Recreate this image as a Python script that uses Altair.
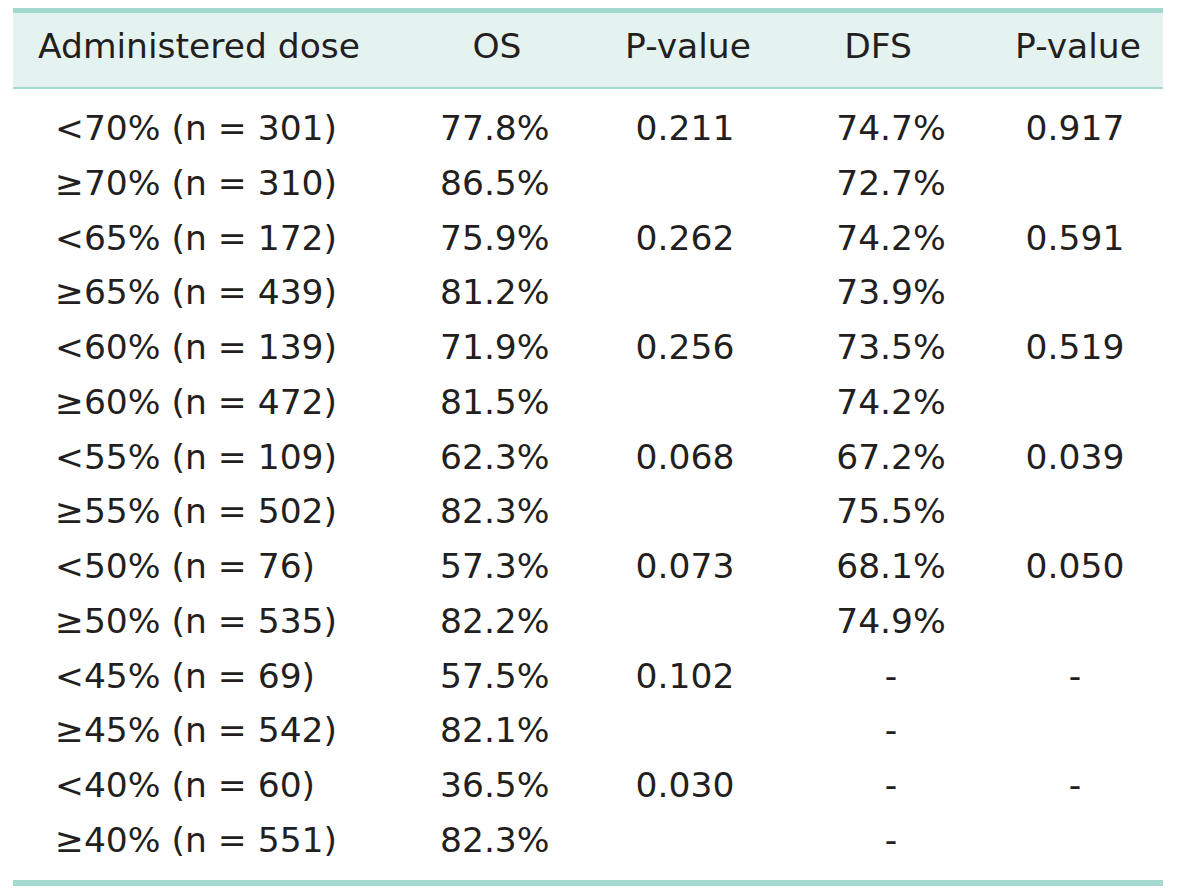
import altair as alt
import pandas as pd

# ---- table contents ----
headers = ["Administered dose", "OS", "P-value", "DFS", "P-value"]
doses = ["<70% (n = 301)", "≥70% (n = 310)", "<65% (n = 172)", "≥65% (n = 439)",
         "<60% (n = 139)", "≥60% (n = 472)", "<55% (n = 109)", "≥55% (n = 502)",
         "<50% (n = 76)", "≥50% (n = 535)", "<45% (n = 69)", "≥45% (n = 542)",
         "<40% (n = 60)", "≥40% (n = 551)"]
os_vals = ["77.8%", "86.5%", "75.9%", "81.2%", "71.9%", "81.5%", "62.3%", "82.3%",
           "57.3%", "82.2%", "57.5%", "82.1%", "36.5%", "82.3%"]
os_p = ["0.211", "", "0.262", "", "0.256", "", "0.068", "", "0.073", "", "0.102", "", "0.030", ""]
dfs_vals = ["74.7%", "72.7%", "74.2%", "73.9%", "73.5%", "74.2%", "67.2%", "75.5%",
            "68.1%", "74.9%", "-", "-", "-", "-"]
dfs_p = ["0.917", "", "0.591", "", "0.519", "", "0.039", "", "0.050", "", "-", "", "-", ""]

# ---- layout (not data) ----
W, H = 1184, 882
FONT = "DejaVu Sans"
FS = 34.5
FW = "normal"
TXT = "#231f20"
TEAL = "#a3d9ce"
BG = "#e5f3f0"
col_x = {"dose": 47, "os": 432, "p1": 677, "dfs": 883, "p2": 1067}
head_x = [30, 489, 680, 870, 1070]
head_align = ["left", "center", "center", "center", "center"]

cols = {"dose": doses, "os": os_vals, "p1": os_p, "dfs": dfs_vals, "p2": dfs_p}
rows = []
for key, vals in cols.items():
    for i, v in enumerate(vals):
        rows.append({"row": i, "col": key, "text": v, "x": col_x[key]})
body = pd.DataFrame(rows)

xs = alt.Scale(domain=[0, W], range=[0, W])
ys = alt.Scale(domain=[0, H], range=[0, H])

bands = pd.DataFrame([
    {"x": 5, "x2": 1155, "y": 5, "y2": 80, "c": BG},
    {"x": 5, "x2": 1155, "y": 0, "y2": 5, "c": TEAL},
    {"x": 5, "x2": 1155, "y": 79, "y2": 81, "c": TEAL},
    {"x": 5, "x2": 1155, "y": 872, "y2": 878, "c": TEAL},
])
rect = alt.Chart(bands).mark_rect().encode(
    x=alt.X("x:Q", scale=xs, axis=None), x2="x2:Q",
    y=alt.Y("y:Q", scale=ys, axis=None), y2="y2:Q",
    color=alt.Color("c:N", scale=None),
)

txt = dict(font=FONT, fontSize=FS, fontWeight=FW, color=TXT, baseline="middle")

head_layers = []
for h, hx, al in zip(headers, head_x, head_align):
    d = pd.DataFrame({"text": [h], "x": [hx], "y": [40]})
    head_layers.append(
        alt.Chart(d).mark_text(align=al, **txt)
        .encode(x=alt.X("x:Q", scale=xs, axis=None), y=alt.Y("y:Q", scale=ys, axis=None), text="text:N")
    )

rs = alt.Scale(type="point", domain=list(range(len(doses))), range=[122, 834], padding=0)
left_body = alt.Chart(body).transform_filter(
    alt.FieldOneOfPredicate(field="col", oneOf=["dose", "os"])
).mark_text(align="left", **txt).encode(
    x=alt.X("x:Q", scale=xs, axis=None), y=alt.Y("row:O", scale=rs, axis=None), text="text:N")
center_body = alt.Chart(body).transform_filter(
    alt.FieldOneOfPredicate(field="col", oneOf=["p1", "dfs", "p2"])
).mark_text(align="center", **txt).encode(
    x=alt.X("x:Q", scale=xs, axis=None), y=alt.Y("row:O", scale=rs, axis=None), text="text:N")

top = alt.layer(rect, *head_layers)
bot = alt.layer(left_body, center_body)
chart = alt.layer(top, bot).resolve_scale(y="independent").properties(
    width=W, height=H, autosize=alt.AutoSizeParams(type="none"), padding=0,
    background="white",
).configure_view(stroke=None)

chart.save("out.html", embed_options={"renderer": "svg", "actions": False})
